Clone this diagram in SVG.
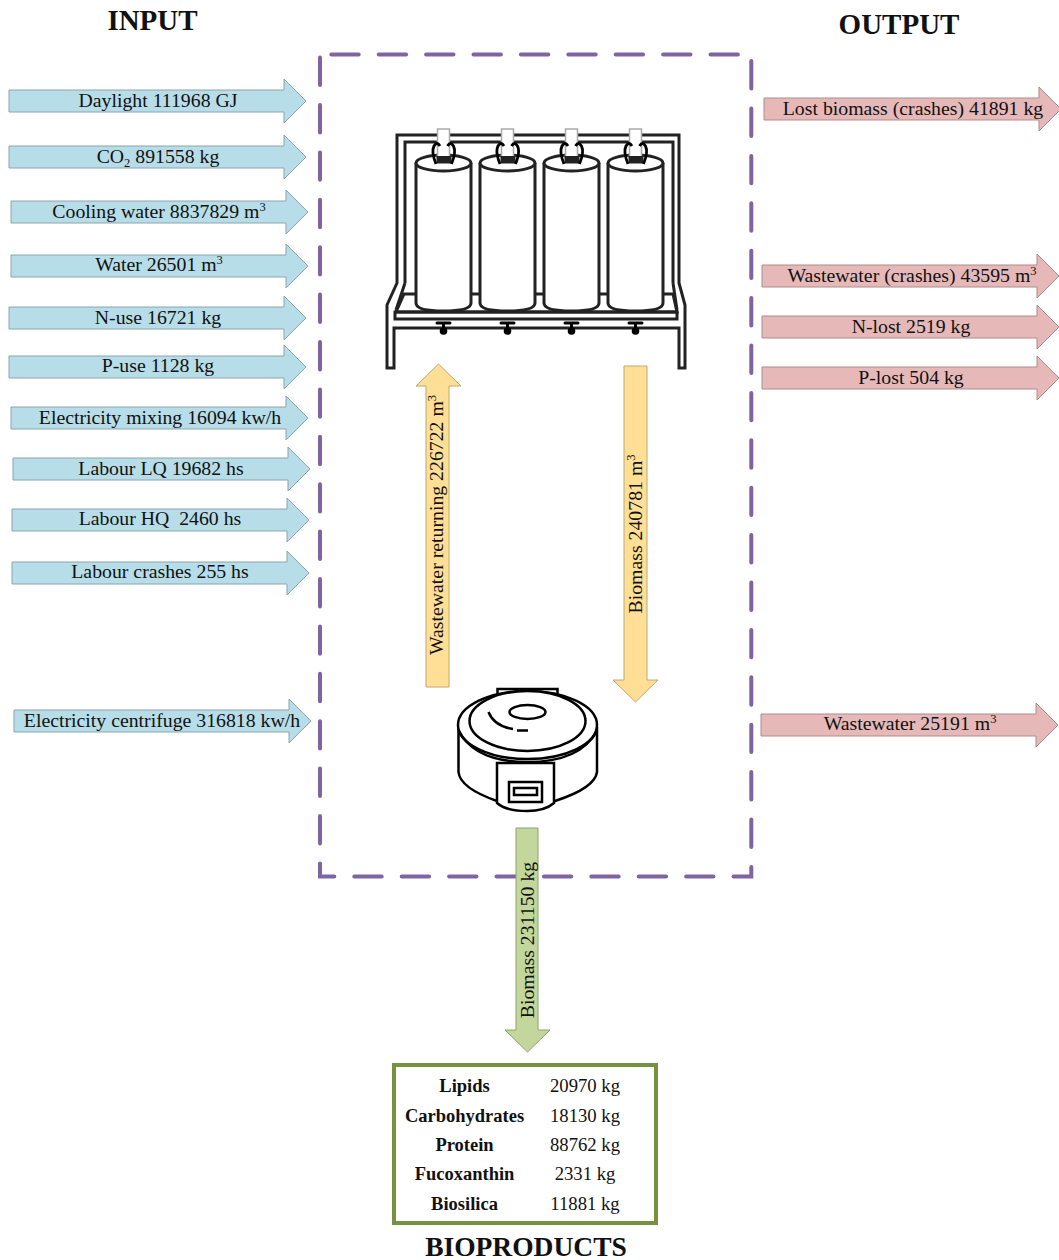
<svg xmlns="http://www.w3.org/2000/svg" xmlns:xlink="http://www.w3.org/1999/xlink" width="1059" height="1260" viewBox="0 0 1059 1260">
<style>
text{font-family:"Liberation Serif","Times New Roman",serif;fill:#111;font-size:19.800px;text-anchor:middle}
.t{font-weight:bold;font-size:29px}
.tb{font-weight:bold;font-size:27.500px}
.b{font-weight:bold;font-size:18.500px}
.v{font-size:18.700px}
.s{font-size:12.500px}
.in{fill:#b7dde8;stroke:#8aa6ae;stroke-width:1}
.out{fill:#e6b9b8;stroke:#ad8b8a;stroke-width:1}
.y{fill:#ffdf95;stroke:#bfa870;stroke-width:1}
.g{fill:#c3d69b;stroke:#92a174;stroke-width:1}
.k{fill:none;stroke:#222;stroke-width:3}
.kw{fill:#fff;stroke:#222;stroke-width:3}
.c{fill:none;stroke:#000;stroke-width:2.500}
.cw{fill:#fff;stroke:#000;stroke-width:2.500}
</style>
<defs>
<path id="a" d="M0,-11 H275 V-22 L297,0 L275,22 V11 H0 Z"/>
<g id="bag">
<path class="kw" d="M416,163 V303 Q416,311 443.500,311 Q471,311 471,303 V163"/>
<ellipse class="kw" cx="443.500" cy="163" rx="27.500" ry="8"/>
<rect x="437.500" y="129" width="12" height="28" fill="#fff" stroke="#aaa" stroke-width="1.500"/>
<rect x="436.500" y="156" width="15" height="7.500" fill="#222"/>
<path d="M436,164 Q431,152 434,146 Q437,141 440,146 M451.500,164 Q456.500,152 453.500,146 Q450.500,141 447.500,146" fill="none" stroke="#000" stroke-width="2.800"/>
<path d="M437,323 H450" stroke="#000" stroke-width="3" stroke-linecap="round"/>
<path d="M443.500,323 V330" stroke="#000" stroke-width="3"/>
<circle cx="443.500" cy="331" r="3.800" fill="#000"/>
</g>
</defs>

<g id="system-boundary"><path d="M331.300,54.500 H751.300 V876.500 H320 V54.500 Z" fill="none" stroke="#8064a2" stroke-width="4" stroke-dasharray="27.400 20" stroke-linecap="round" stroke-linejoin="miter"/></g>

<g id="headers">
<text class="t" x="152.500" y="30">INPUT</text>
<text class="t" x="899" y="34">OUTPUT</text>
<text class="tb" x="526" y="1256">BIOPRODUCTS</text>
</g>

<g id="reactor">
<path class="k" d="M397,283 V135 H679 V283 L685,305 V368 H679 V328 H394 V368 H387 V305 Z"/>
<path class="k" d="M405,283 V142 H673 V283 M405,283 L396,310 M673,283 L677,310"/>
<path class="k" d="M404,294 H673 L677,312 H396 Z"/>
<rect class="k" x="395" y="312" width="282" height="7"/>
<use xlink:href="#bag"/>
<use xlink:href="#bag" x="64"/>
<use xlink:href="#bag" x="128"/>
<use xlink:href="#bag" x="192"/>
</g>

<g id="centrifuge">
<rect class="cw" x="497.500" y="689" width="60" height="14"/>
<path class="cw" d="M458.500,727 V772 Q460,788 497,801 H555 Q595,788 597,772 V727"/>
<ellipse class="cw" cx="527.500" cy="725" rx="69.500" ry="34"/>
<path class="c" d="M459,731 Q475,762 527.500,762 Q580,762 597,731"/>
<ellipse class="cw" cx="527.500" cy="721" rx="58" ry="30"/>
<ellipse class="c" cx="527.500" cy="712" rx="18" ry="7"/>
<path class="c" d="M488.500,712 Q494,726 513,729 M517,730.500 H528"/>
<path class="cw" d="M497,763 H554 V803 Q545,811 527,811 Q506,811 497,803 Z"/>
<rect class="c" x="509" y="782" width="33" height="20"/>
<rect class="c" x="514" y="788" width="23" height="7"/>
</g>

<g id="connectors">
<use xlink:href="#a" class="in" x="9" y="101"/>
<use xlink:href="#a" class="in" x="9" y="157"/>
<use xlink:href="#a" class="in" x="11" y="212"/>
<use xlink:href="#a" class="in" x="11" y="266"/>
<use xlink:href="#a" class="in" x="9" y="318"/>
<use xlink:href="#a" class="in" x="9" y="367"/>
<use xlink:href="#a" class="in" x="11" y="418"/>
<use xlink:href="#a" class="in" x="13" y="469"/>
<use xlink:href="#a" class="in" x="12" y="520"/>
<use xlink:href="#a" class="in" x="12" y="573"/>
<use xlink:href="#a" class="in" x="14" y="721"/>
<use xlink:href="#a" class="out" x="764" y="109"/>
<use xlink:href="#a" class="out" x="762" y="276"/>
<use xlink:href="#a" class="out" x="762" y="327"/>
<use xlink:href="#a" class="out" x="762" y="378"/>
<use xlink:href="#a" class="out" x="761" y="725"/>
<path class="y" d="M426,687 V386 H416 L438.500,364 L461,386 H449 V687 Z"/>
<path class="y" d="M624,366 V680 H613 L635.500,702 L658,680 H647 V366 Z"/>
<path class="g" d="M516,828 V1030 H505 L527.500,1052 L550,1030 H538 V828 Z"/>
</g>

<g id="labels">
<text x="158" y="107">Daylight 111968 GJ</text>
<text x="158" y="163">CO<tspan class="s" dy="4">2</tspan><tspan dy="-4"> 891558 kg</tspan></text>
<text x="159" y="218">Cooling water 8837829 m<tspan class="s" dy="-7">3</tspan></text>
<text x="159" y="271">Water 26501 m<tspan class="s" dy="-7">3</tspan></text>
<text x="158" y="324">N-use 16721 kg</text>
<text x="158" y="372">P-use 1128 kg</text>
<text x="160" y="424">Electricity mixing 16094 kw/h</text>
<text x="161" y="475">Labour LQ 19682 hs</text>
<text x="160" y="525">Labour HQ&#160; 2460 hs</text>
<text x="160" y="578">Labour crashes 255 hs</text>
<text x="162" y="727">Electricity centrifuge 316818 kw/h</text>
<text x="913" y="115">Lost biomass (crashes) 41891 kg</text>
<text x="912" y="282">Wastewater (crashes) 43595 m<tspan class="s" dy="-7">3</tspan></text>
<text x="911" y="333">N-lost 2519 kg</text>
<text x="911" y="384">P-lost 504 kg</text>
<text x="910" y="730">Wastewater 25191 m<tspan class="s" dy="-7">3</tspan></text>
<text transform="translate(443,525) rotate(-90)">Wastewater returning 226722 m<tspan class="s" dy="-7">3</tspan></text>
<text transform="translate(642,534) rotate(-90)">Biomass 240781 m<tspan class="s" dy="-7">3</tspan></text>
<text transform="translate(534,940) rotate(-90)">Biomass 231150 kg</text>
</g>

<g id="bioproducts">
<rect x="394" y="1065" width="262" height="158" fill="#fff" stroke="#76923c" stroke-width="4"/>
<text class="b" x="464.500" y="1092">Lipids</text><text class="v" x="585" y="1092">20970 kg</text>
<text class="b" x="464.500" y="1122">Carbohydrates</text><text class="v" x="585" y="1122">18130 kg</text>
<text class="b" x="464.500" y="1151">Protein</text><text class="v" x="585" y="1151">88762 kg</text>
<text class="b" x="464.500" y="1180">Fucoxanthin</text><text class="v" x="585" y="1180">2331 kg</text>
<text class="b" x="464.500" y="1210">Biosilica</text><text class="v" x="585" y="1210">11881 kg</text>
</g>
</svg>
